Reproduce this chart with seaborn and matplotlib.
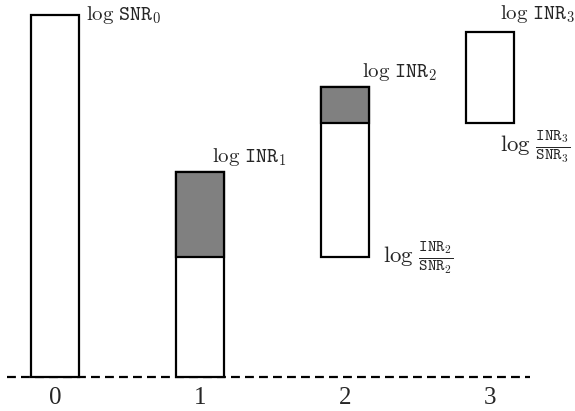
import numpy as np
import seaborn as sns
import matplotlib.pyplot as plt

# Datos (unidades arbitrarias en escala log)
cats = ["0", "1", "2", "3"]
bar_low = [0.0, 0.0, 3.31, 7.02]
bar_high = [10.0, 5.66, 8.01, 9.53]
grey_cats = ["1", "2"]
grey_low = [3.31, 7.02]
grey_high = [5.66, 8.01]

sns.set_style("white")
plt.rcParams["mathtext.fontset"] = "cm"
plt.rcParams["font.family"] = ["Liberation Serif", "DejaVu Serif"]

fig = plt.figure(figsize=(5.75, 4.11), dpi=100)
ax = fig.add_axes([0, 0.056, 1, 0.944])

w = 0.33
heights = np.array(bar_high) - np.array(bar_low)
sns.barplot(x=cats, y=heights, bottom=bar_low, order=cats, width=w,
            color="white", edgecolor="black", linewidth=1.6, ax=ax, zorder=2)
g_heights = np.array(grey_high) - np.array(grey_low)
sns.barplot(x=grey_cats, y=g_heights, bottom=grey_low, order=cats, width=w,
            color="#808080", edgecolor="black", linewidth=1.6, ax=ax, zorder=3)

# linea base discontinua
ax.axhline(0, xmin=0.013, xmax=0.922, color="black", lw=1.6,
           ls=(0, (4.0, 2.3)), zorder=1)

fs = 15
ax.text(0 + 0.214, bar_high[0], r"$\log\,\mathtt{SNR}_0$", fontsize=fs, va="center")
for i in [1, 2, 3]:
    dx = {1: 0.083, 2: 0.117, 3: 0.069}[i]
    dy = {1: 0.42, 2: 0.42, 3: 0.5}[i]
    ax.text(i + dx, bar_high[i] + dy, r"$\log\,\mathtt{INR}_%d$" % i,
            fontsize=fs, va="center")
ax.text(2 + 0.262, bar_low[2], r"$\log\,\frac{\mathtt{INR}_2}{\mathtt{SNR}_2}$",
        fontsize=16.5, va="center")
ax.text(3 + 0.069, bar_low[3] - 0.67, r"$\log\,\frac{\mathtt{INR}_3}{\mathtt{SNR}_3}$",
        fontsize=16.5, va="center")

ax.set_xlim(-0.379, 3.586)
ax.set_ylim(-0.3, 10.41)
ax.set_yticks([])
ax.tick_params(axis="x", length=0, pad=-1, labelsize=18)
ax.set_xlabel("")
ax.set_ylabel("")
for s in ax.spines.values():
    s.set_visible(False)
ax.patch.set_alpha(0)

fig.savefig("out.png", dpi=100)
